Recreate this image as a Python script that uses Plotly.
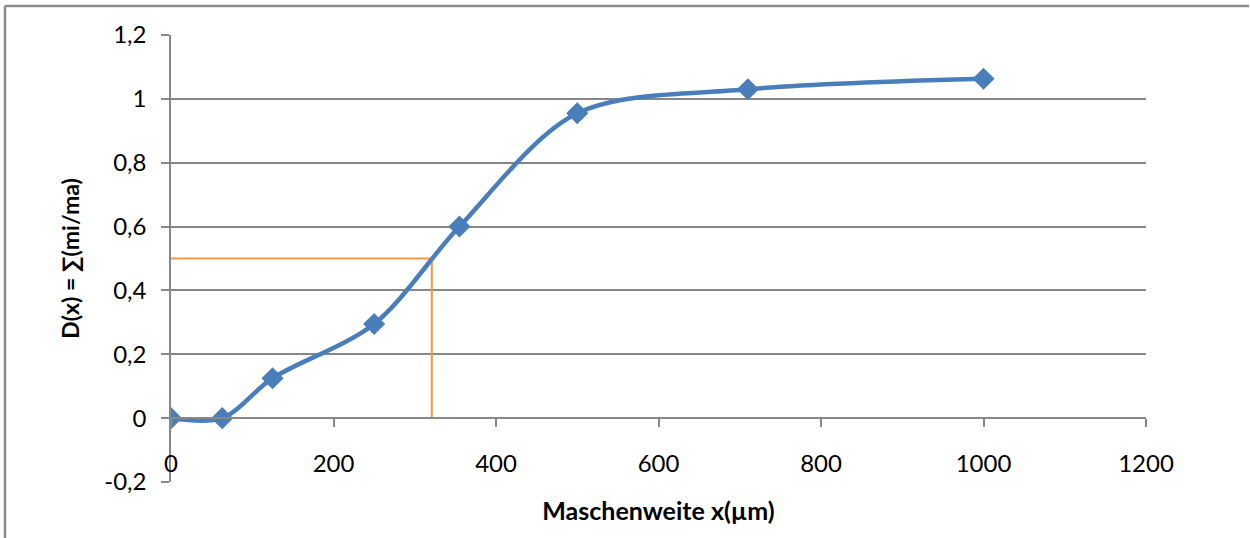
import plotly.graph_objects as go

# Siebanalyse: Durchgangssumme über der Maschenweite
maschenweite = [0, 63, 125, 250, 355, 500, 710, 1000]
durchgang = [0, 0, 0.125, 0.295, 0.6, 0.955, 1.03, 1.063]

# Ablesung des Medianwerts x50 bei D = 0,5
median_x = [0, 321, 321]
median_y = [0.5, 0.5, 0]

x_ticks = [0, 200, 400, 600, 800, 1000, 1200]
y_ticks = [-0.2, 0, 0.2, 0.4, 0.6, 0.8, 1, 1.2]
y_tick_labels = ["-0,2", "0", "0,2", "0,4", "0,6", "0,8", "1", "1,2"]

W, H = 1250, 538
L, R, T, B = 171, 104, 35, 56
plot_w, plot_h = W - L - R, H - T - B

grid = "#878787"
blue = "#4A7EBB"
orange = "#F79646"
font = "Lato, Carlito, Calibri, sans-serif"

fig = go.Figure()
fig.add_trace(go.Scatter(
    x=median_x, y=median_y, mode="lines",
    line=dict(color=orange, width=2), hoverinfo="skip", showlegend=False,
))
fig.add_trace(go.Scatter(
    x=maschenweite, y=durchgang, mode="lines+markers",
    line=dict(color=blue, width=4.5, shape="spline", smoothing=0.9),
    marker=dict(symbol="diamond", size=17, color=blue),
    showlegend=False,
))

y_min, y_max = -0.2, 1.2
zero_pos = (0 - y_min) / (y_max - y_min)

fig.update_layout(
    width=W, height=H,
    margin=dict(l=L, r=R, t=T, b=B),
    paper_bgcolor="white", plot_bgcolor="white",
    font=dict(family=font, size=24, color="#000000"),
    xaxis=dict(
        range=[0, 1200], tickvals=x_ticks, ticktext=[str(v) for v in x_ticks],
        anchor="free", position=zero_pos,
        showline=True, linecolor=grid, linewidth=1.5,
        ticks="outside", ticklen=8, tickcolor=grid, tickwidth=1.5,
        ticklabelstandoff=16,
        showgrid=False, zeroline=False,
        title=dict(text="<b>Maschenweite x(µm)</b>", font=dict(size=25), standoff=26),
    ),
    yaxis=dict(
        range=[y_min, y_max], tickvals=y_ticks, ticktext=y_tick_labels,
        showline=True, linecolor=grid, linewidth=1.5,
        ticks="outside", ticklen=8, tickcolor=grid, tickwidth=1.5,
        ticklabelstandoff=10,
        showgrid=True, gridcolor=grid, gridwidth=1.5, zeroline=False,
        title=dict(text="<b>D(x) = ∑(mi/ma)</b>", font=dict(size=23), standoff=18),
    ),
)

# Rahmen des Diagrammbereichs (links und oben sichtbar), in Pixeln des Blatts
fig.add_shape(type="line", xref="paper", yref="paper",
              x0=(5 - L) / plot_w, x1=(5 - L) / plot_w,
              y0=(H - B - H - 5) / plot_h, y1=(H - B - 6) / plot_h,
              line=dict(color="#8C8C8C", width=2.5))
fig.add_shape(type="line", xref="paper", yref="paper",
              x0=(5 - L) / plot_w, x1=(W - 1 - L) / plot_w,
              y0=(H - B - 6) / plot_h, y1=(H - B - 6) / plot_h,
              line=dict(color="#8C8C8C", width=2.5))

fig.write_html("out.html")
